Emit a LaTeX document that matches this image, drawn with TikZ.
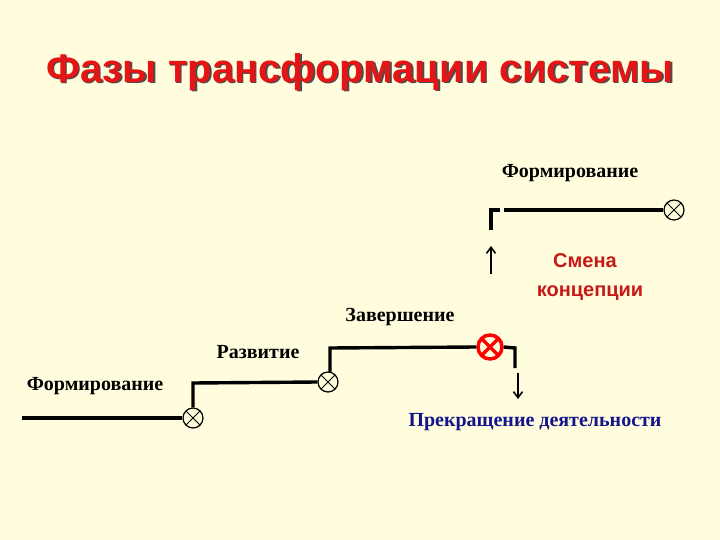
\documentclass[tikz,border=0pt]{standalone}
\usepackage{fontspec}
\setmainfont{Liberation Serif}
\newfontfamily\arialf{Liberation Sans}
\definecolor{bg}{RGB}{255,253,222}
\definecolor{ttl}{RGB}{230,20,20}
\definecolor{dred}{RGB}{200,25,25}
\definecolor{dblue}{RGB}{20,20,140}
\tikzset{
  ln/.style={line width=3.4pt},
  ox/.style={circle,draw,line width=1.2pt,minimum size=20pt,inner sep=0pt,path picture={\draw[line width=1pt] (path picture bounding box.north west)--(path picture bounding box.south east) (path picture bounding box.north east)--(path picture bounding box.south west);}},
  oxr/.style={ox,draw=red,line width=3.5pt,minimum size=24pt,path picture={\draw[red,line width=3.5pt] (path picture bounding box.north west)--(path picture bounding box.south east) (path picture bounding box.north east)--(path picture bounding box.south west);}},
  lbl/.style={font=\bfseries\fontsize{20}{22}\selectfont},
  arr/.style={line width=1.6pt,-{Straight Barb[length=6pt,width=9pt]}}
}
\usetikzlibrary{arrows.meta}
\begin{document}
\begin{tikzpicture}[x=1pt,y=-1pt]
\fill[bg] (0,0) rectangle (720,540);
\useasboundingbox (0,0) rectangle (720,540);
\node[font=\arialf\bfseries\fontsize{40}{44}\selectfont,text=black!70] at (361.5,73.5) {Фазы трансформации системы};
\node (title) [font=\arialf\bfseries\fontsize{40}{44}\selectfont,text=ttl] at (360,72) {Фазы трансформации системы};
\coordinate (s1) at (22,418);
\node[ox] (c1) at (193,418) {};
\node[ox] (c2) at (328,382) {};
\node[oxr] (c3) at (490,347) {};
\node[ox] (c4) at (674,210) {};
\coordinate (k1) at (193,383);
\coordinate (k2) at (330,348);
\coordinate (k3) at (515,348);
\coordinate (k4) at (515,368);
\coordinate (k5) at (491,230);
\coordinate (k6) at (491,210);
\coordinate (k7) at (500,210);
\coordinate (k8) at (504,210);
\draw[ln] (s1) -- (c1.west);
\draw[ln] (c1.north) -- (k1) -- (c2.west);
\draw[ln] (330,372) -- (k2) -- (c3.west);
\draw[ln] (c3.east) -- (k3) -- (k4);
\draw[ln] (k5) -- (k6) -- (k7);
\draw[ln] (k8) -- (c4.west);
\coordinate (a1) at (518,373); \coordinate (a2) at (518,399);
\coordinate (b1) at (491,274); \coordinate (b2) at (491,246);
\draw[arr] (a1) -- (a2);
\draw[arr] (b1) -- (b2);
\node[lbl] (l1) at (570,173) {Формирование};
\node[lbl] (l2) at (400,317) {Завершение};
\node[lbl] (l3) at (258,352) {Развитие};
\node[lbl] (l4) at (95,386) {Формирование};
\node[lbl,text=dblue] (l5) at (535,422) {Прекращение деятельности};
\node[font=\arialf\bfseries\fontsize{20}{22}\selectfont,text=dred] (l6) at (585,261) {Смена};
\node[font=\arialf\bfseries\fontsize{20}{22}\selectfont,text=dred] (l7) at (590,293) {концепции};
\end{tikzpicture}
\end{document}
